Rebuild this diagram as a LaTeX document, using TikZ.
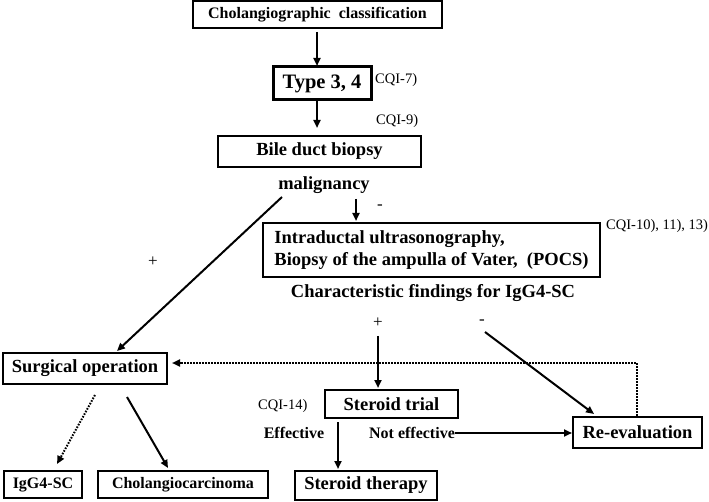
\documentclass[tikz,border=0pt]{standalone}
\usepackage{fontspec}
\setmainfont{Liberation Serif}
\usetikzlibrary{arrows.meta}
\begin{document}
\begin{tikzpicture}[x=1pt,y=-1pt,
  box/.style={draw,line width=2pt,inner sep=0pt,align=center,font=\fontsize{18.5}{22}\selectfont\bfseries},
  smallbox/.style={box,font=\fontsize{16}{19}\selectfont\bfseries},
  lbl/.style={inner sep=0pt,font=\fontsize{18.5}{22}\selectfont\bfseries},
  slbl/.style={inner sep=0pt,font=\fontsize{16}{19}\selectfont\bfseries},
  cqi/.style={inner sep=0pt,anchor=west,font=\fontsize{14.5}{16}\selectfont},
  sign/.style={inner sep=0pt,font=\fontsize{17}{19}\selectfont},
  arr/.style={line width=2pt,-{Triangle[length=8pt,width=7pt]}},
  dotarr/.style={line width=2pt,dash pattern=on 1.6pt off 1.4pt,-{Triangle[length=8pt,width=7pt]}}]
\useasboundingbox (0,0) rectangle (709,502);

% boxes
\node[smallbox,minimum width=249pt,minimum height=27pt] (cc) at (317.5,14.5) {Cholangiographic\ \ classification};
\node[box,line width=3pt,minimum width=98pt,minimum height=33pt,font=\fontsize{20.5}{24}\selectfont\bfseries] (t34) at (322,83.5) {Type 3, 4};
\node[box,minimum width=203pt,minimum height=31pt] (bdb) at (319.5,151.5) {Bile duct biopsy};
\node[box,minimum width=337pt,minimum height=54pt,align=left] (ius) at (431.5,250) {Intraductal ultrasonography,\\Biopsy of the ampulla of Vater,\ \ (POCS)};
\node[box,minimum width=164pt,minimum height=31pt] (surg) at (85,368.5) {Surgical operation};
\node[box,minimum width=133pt,minimum height=28pt] (st) at (391.5,404) {Steroid trial};
\node[box,minimum width=129pt,minimum height=31pt] (re) at (637.5,432.5) {Re-evaluation};
\node[box,minimum width=142pt,minimum height=29pt] (sth) at (366,485.5) {Steroid therapy};
\node[smallbox,minimum width=78pt,minimum height=27pt] (igg) at (43,484.5) {IgG4-SC};
\node[smallbox,minimum width=170pt,minimum height=27pt] (chc) at (183,484.5) {Cholangiocarcinoma};

% labels
\node[lbl] (mal) at (324,185) {malignancy};
\node[lbl] (char) at (433,293) {Characteristic findings for IgG4-SC};
\node[slbl] (eff) at (294,433) {Effective};
\node[slbl] (neff) at (412,433) {Not effective};
\node[cqi] (q7) at (375,80) {CQI-7)};
\node[cqi] (q9) at (376,121) {CQI-9)};
\node[cqi] (q10) at (606,226) {CQI-10), 11), 13)};
\node[cqi] (q14) at (258,406) {CQI-14)};
\node[sign] (m1) at (380,207) {-};
\node[sign] (p1) at (153,262) {+};
\node[sign] (p2) at (378,323) {+};
\node[sign] (m2) at (482,322) {-};

% helper coordinates
\coordinate (a1s) at (317,32);
\coordinate (a1e) at (317,66);
\coordinate (a2s) at (317,101);
\coordinate (a2e) at (317,128);
\coordinate (a3s) at (356,199);
\coordinate (a3e) at (356,221);
\coordinate (d1s) at (282,197);
\coordinate (d1e) at (117,351);
\coordinate (a4s) at (378,336);
\coordinate (a4e) at (378,388);
\coordinate (d2s) at (485,332);
\coordinate (d2e) at (594,414);
\coordinate (dc) at (637,363);
\coordinate (a5s) at (338,422);
\coordinate (a5e) at (338,469);
\coordinate (s1s) at (95,395);
\coordinate (s1e) at (57,464);
\coordinate (s2s) at (127,397);
\coordinate (s2e) at (168,468);

% connectors
\draw[arr] (a1s) -- (a1e);
\draw[arr] (a2s) -- (a2e);
\draw[arr] (a3s) -- (a3e);
\draw[arr] (d1s) -- (d1e);
\draw[arr] (a4s) -- (a4e);
\draw[arr] (d2s) -- (d2e);
\draw[dotarr] (re.north -| dc) -- (dc) -- ([xshift=4pt]surg.east |- dc);
\draw[arr] (neff.east) -- (re.west |- neff.east);
\draw[arr] (a5s) -- (a5e);
\draw[dotarr] (s1s) -- (s1e);
\draw[arr] (s2s) -- (s2e);
\end{tikzpicture}
\end{document}
